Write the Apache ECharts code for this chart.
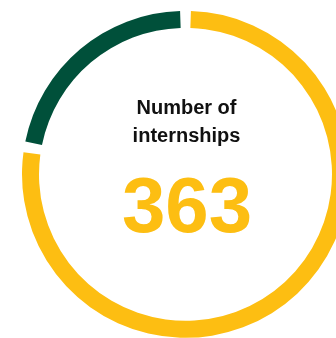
<!DOCTYPE html>
<html>
<head>
<meta charset="utf-8">
<script src="https://cdn.jsdelivr.net/npm/echarts@6/dist/echarts.min.js"></script>
<style>
  html, body { margin: 0; padding: 0; background: #ffffff; }
  #chart { width: 336px; height: 338px; }
</style>
</head>
<body>
<div id="chart"></div>
<script>
// Internship split shown as a ring; the total goes in the middle.
const categories = ['Group A', 'Group B'];
const values = [282, 81];
const colors = ['#FDBE12', '#00503A'];
const titleLines = ['Number of', 'internships'];

const total = values.reduce((a, b) => a + b, 0);

const chart = echarts.init(document.getElementById('chart'), null, { renderer: 'canvas' });

const cx = 185.5, cy = 174.3;

chart.setOption({
  animation: false,
  series: [{
    type: 'pie',
    center: [cx, cy],
    radius: [146.5, 163.5],
    startAngle: 90,
    clockwise: true,
    padAngle: 3.8,
    label: { show: false },
    labelLine: { show: false },
    emphasis: { disabled: true },
    silent: true,
    data: categories.map((name, i) => ({
      name: name,
      value: values[i],
      itemStyle: { color: colors[i] }
    }))
  }],
  graphic: [
    {
      type: 'text',
      x: 186.5, y: 108,
      style: {
        text: titleLines[0],
        fill: '#111111',
        font: 'bold 20px "Liberation Sans", Arial, sans-serif',
        textAlign: 'center',
        textVerticalAlign: 'middle'
      }
    },
    {
      type: 'text',
      x: 186.5, y: 136.5,
      style: {
        text: titleLines[1],
        fill: '#111111',
        font: 'bold 20px "Liberation Sans", Arial, sans-serif',
        textAlign: 'center',
        textVerticalAlign: 'middle'
      }
    },
    {
      type: 'text',
      x: 187, y: 210.3,
      style: {
        text: String(total),
        fill: '#FDBE12',
        font: 'bold 78px "Liberation Sans", Arial, sans-serif',
        textAlign: 'center',
        textVerticalAlign: 'middle'
      }
    }
  ]
});
</script>
</body>
</html>
